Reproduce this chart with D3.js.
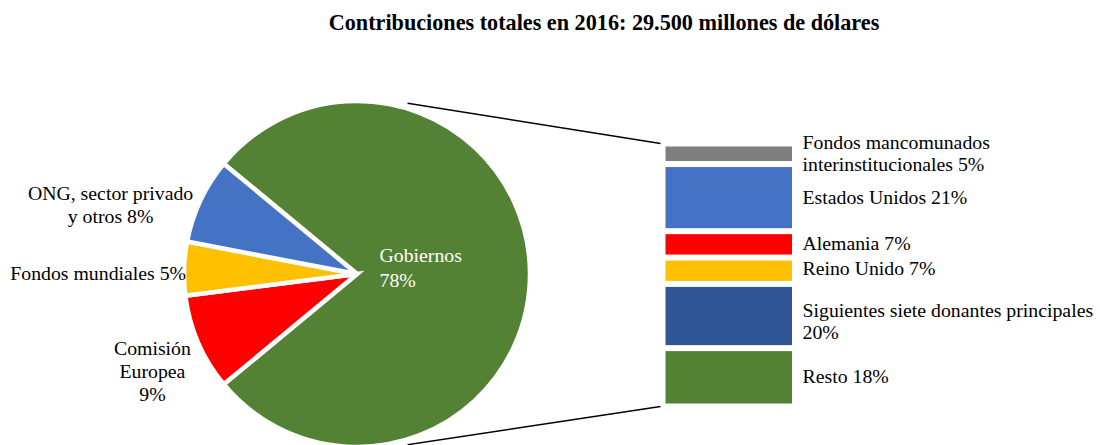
<!DOCTYPE html>
<html>
<head>
<meta charset="utf-8">
<script src="https://cdn.jsdelivr.net/npm/d3@7"></script>
<style>
  body { margin: 0; background: #fff; }
  text { font-family: "Liberation Serif", "Times New Roman", serif; }
</style>
</head>
<body>
<div class="chart"></div>
<script>
// Pie data (share of total, %)
const pieNames = ['Gobiernos', 'Comisión Europea', 'Fondos mundiales', 'ONG, sector privado y otros'];
const pieValues = [78, 9, 5, 8];
const pieLabels = [['Gobiernos', '78%'], ['Comisión', 'Europea', '9%'], ['Fondos mundiales 5%'], ['ONG, sector privado', 'y otros 8%']];
const pieColors = ['#548235', '#FF0000', '#FFC000', '#4472C4'];

// Breakdown of "Gobiernos" (bar), top to bottom
const barNames = ['Fondos mancomunados interinstitucionales', 'Estados Unidos', 'Alemania', 'Reino Unido', 'Siguientes siete donantes principales', 'Resto'];
const barValues = [5, 21, 7, 7, 20, 18];
const barLabels = [['Fondos mancomunados', 'interinstitucionales 5%'], ['Estados Unidos 21%'], ['Alemania 7%'], ['Reino Unido 7%'], ['Siguientes siete donantes principales', '20%'], ['Resto 18%']];
const barColors = ['#7F7F7F', '#4472C4', '#FF0000', '#FFC000', '#2F5597', '#548235'];

const title = 'Contribuciones totales en 2016: 29.500 millones de dólares';

// layout
const width = 1100, height = 445;
const cx = 357, cy = 274, radius = 173;
const bar = { x: 665.5, width: 126.5, top: 146.5, bottom: 403.5, gap: 6 };
const fontSize = 19.8;
// nudges for the outside pie labels (Excel "best fit" placement)
const pieLabelShift = [0, 26, 6, 9];
const pieLabelShiftX = [0, 0, 10, 0];
const barLabelShift = [0, 0, 0, -2, 6, 0];

const svg = d3.select('.chart')
  .append('svg')
  .attr('width', width)
  .attr('height', height);

svg.append('text')
  .attr('x', 604)
  .attr('y', 30)
  .attr('text-anchor', 'middle')
  .attr('font-weight', 'bold')
  .attr('font-size', 22.2)
  .text(title);

// Pie: green slice centred on the right side
const greenShare = pieValues[0] / d3.sum(pieValues);
const start = Math.PI / 2 - greenShare * Math.PI;
const pie = d3.pie().sort(null).startAngle(start).endAngle(start + 2 * Math.PI);
const arcs = pie(pieValues);
const arc = d3.arc().innerRadius(0).outerRadius(radius);

const g = svg.append('g').attr('transform', `translate(${cx},${cy})`);

g.selectAll('.slice')
  .data(arcs)
  .enter()
  .append('path')
  .attr('class', 'slice')
  .attr('d', arc)
  .attr('fill', (d, i) => pieColors[i])
  .attr('stroke', '#fff')
  .attr('stroke-width', 4.5)
  .attr('stroke-linejoin', 'miter');

// Gobiernos label inside
g.append('text')
  .attr('fill', '#fff')
  .attr('font-size', fontSize)
  .selectAll('tspan')
  .data(pieLabels[0])
  .enter()
  .append('tspan')
  .attr('x', 22.5)
  .attr('y', (d, i) => -12 + i * 24.5)
  .text(d => d);

// outside labels for the small slices
arcs.slice(1).forEach(function(a, k) {
  const i = k + 1;
  const mid = (a.startAngle + a.endAngle) / 2;
  const ax = Math.sin(mid) * (radius + 8) + pieLabelShiftX[i];
  const ay = -Math.cos(mid) * (radius + 8);
  const lines = pieLabels[i];
  const t = g.append('text')
    .attr('font-size', fontSize)
    .attr('text-anchor', 'middle');
  const spans = t.selectAll('tspan')
    .data(lines)
    .enter()
    .append('tspan')
    .text(d => d);
  let maxW = 0;
  spans.each(function() { maxW = Math.max(maxW, this.getComputedTextLength()); });
  const lh = 23;
  const y0 = ay + pieLabelShift[i] - (lines.length - 1) * lh / 2 + 6;
  spans.attr('x', ax - maxW / 2)
    .attr('y', (d, j) => y0 + j * lh);
});

// Bar breakdown
let cum = 0;
const barData = barValues.map(function(v, i) {
  const d = { name: barNames[i], value: v, y0: cum, i: i };
  cum += v;
  d.y1 = cum;
  return d;
});
const y = d3.scaleLinear()
  .domain([0, d3.sum(barValues)])
  .range([bar.top, bar.bottom - bar.gap * (barValues.length - 1)]);

svg.selectAll('.seg')
  .data(barData)
  .enter()
  .append('rect')
  .attr('class', 'seg')
  .attr('x', bar.x)
  .attr('width', bar.width)
  .attr('y', d => y(d.y0) + d.i * bar.gap)
  .attr('height', d => y(d.y1) - y(d.y0))
  .attr('fill', d => barColors[d.i]);

barData.forEach(function(d) {
  const mid = (y(d.y0) + y(d.y1)) / 2 + d.i * bar.gap;
  const lines = barLabels[d.i];
  const lh = 22.5;
  const y0 = mid - (lines.length - 1) * lh / 2 + 6 + barLabelShift[d.i];
  svg.append('text')
    .attr('font-size', fontSize)
    .selectAll('tspan')
    .data(lines)
    .enter()
    .append('tspan')
    .attr('x', bar.x + bar.width + 10.5)
    .attr('y', (t, j) => y0 + j * lh)
    .text(t => t);
});

// connector lines from pie to bar
const ang = 73.5 * Math.PI / 180;
const rr = radius + 5;
const lines = [
  [cx + rr * Math.cos(ang), cy - rr * Math.sin(ang), bar.x - 5, bar.top - 3],
  [cx + rr * Math.cos(ang), cy + rr * Math.sin(ang), bar.x - 5, bar.bottom + 3]
];
svg.selectAll('.connector')
  .data(lines)
  .enter()
  .append('line')
  .attr('class', 'connector')
  .attr('x1', d => d[0])
  .attr('y1', d => d[1])
  .attr('x2', d => d[2])
  .attr('y2', d => d[3])
  .attr('stroke', '#000')
  .attr('stroke-width', 1.5);
</script>
</body>
</html>
